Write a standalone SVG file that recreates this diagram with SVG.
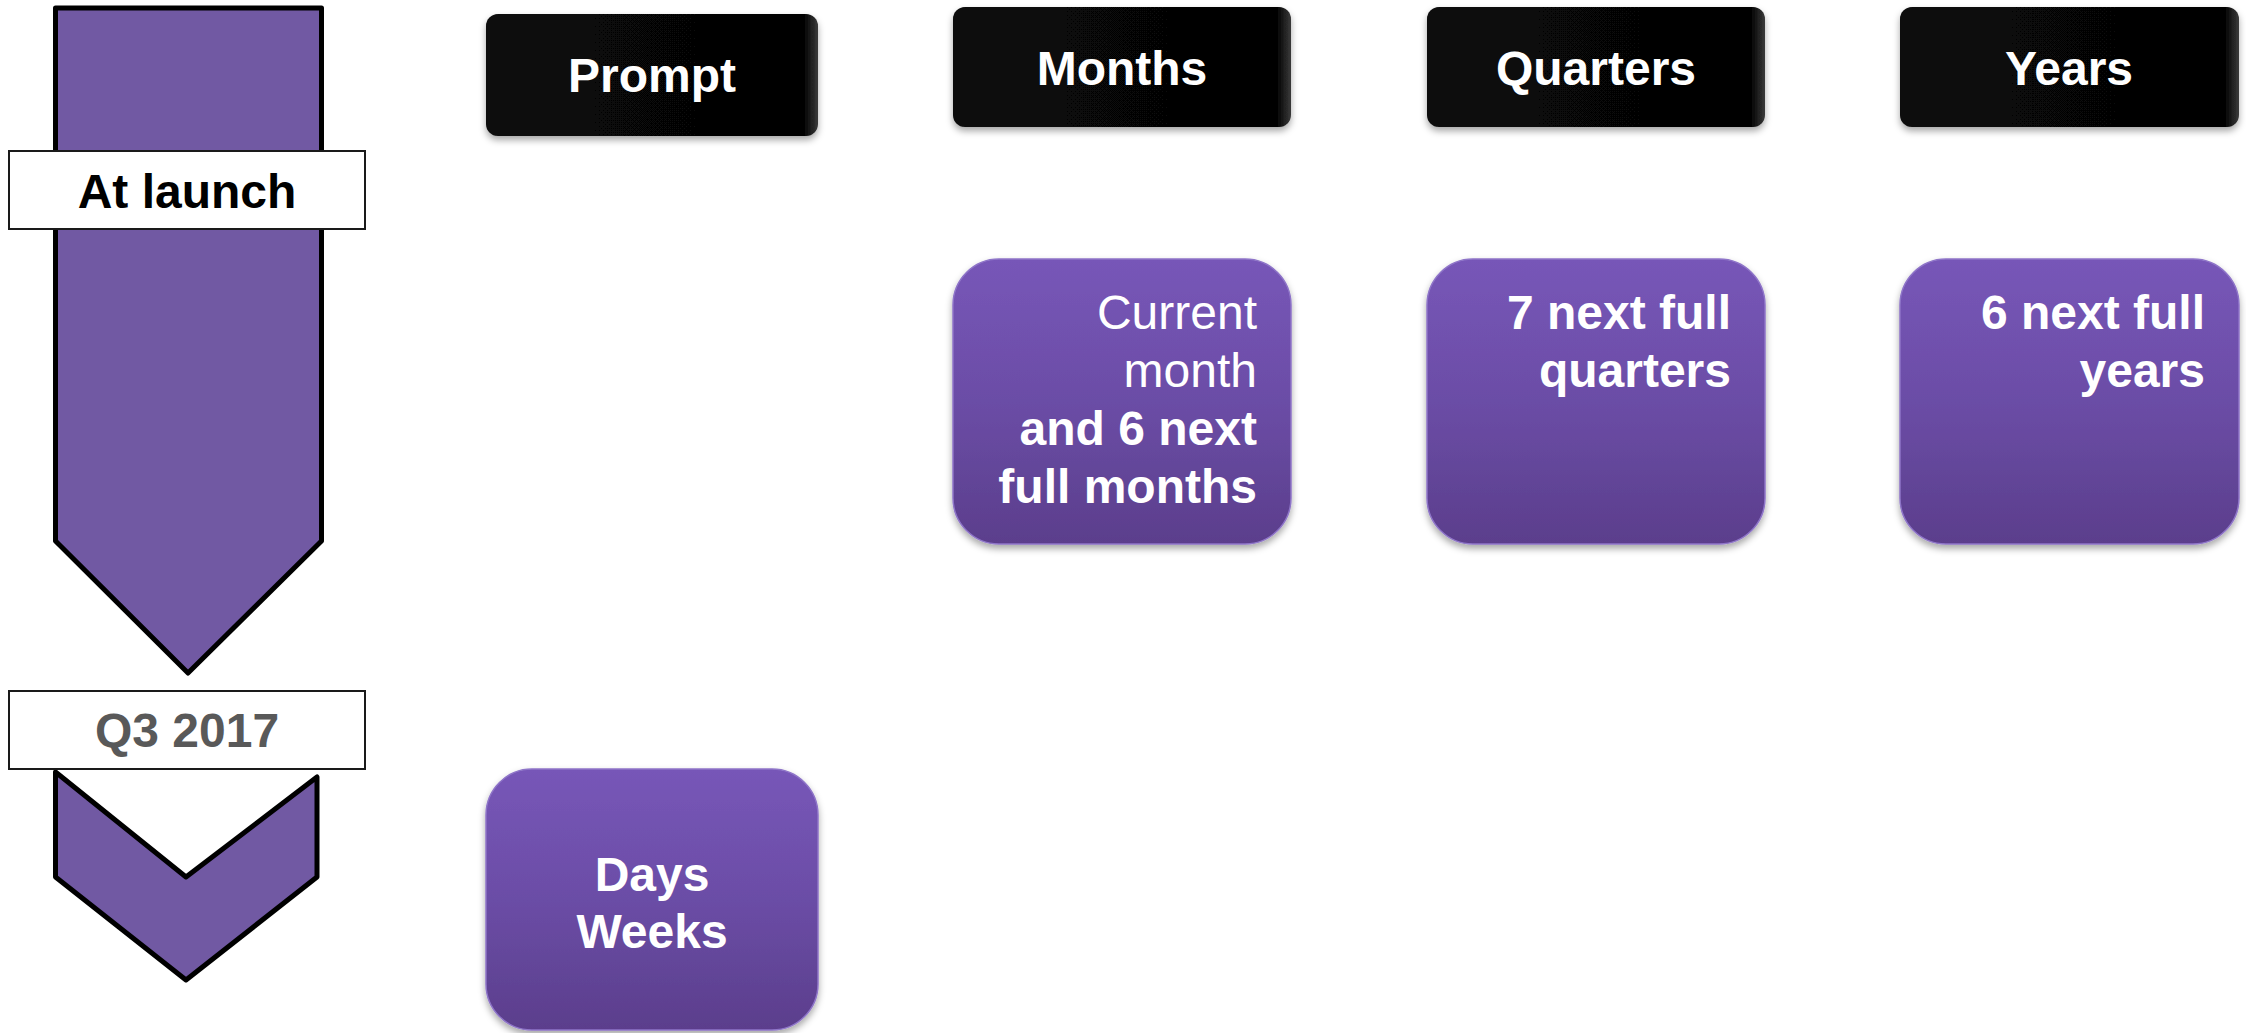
<svg xmlns="http://www.w3.org/2000/svg" width="2246" height="1033" viewBox="0 0 2246 1033">
  <defs>
    <linearGradient id="purpleGrad" x1="0" y1="0" x2="0" y2="1">
      <stop offset="0" stop-color="#7756B8"/>
      <stop offset="0.5" stop-color="#6B4DA6"/>
      <stop offset="1" stop-color="#5B3E8C"/>
    </linearGradient>
    <linearGradient id="blackGrad" x1="0" y1="0" x2="1" y2="0">
      <stop offset="0" stop-color="#080808"/>
      <stop offset="0.96" stop-color="#050505"/>
      <stop offset="1" stop-color="#3a3a3a"/>
    </linearGradient>
    <filter id="shadow" x="-10%" y="-10%" width="120%" height="125%">
      <feDropShadow dx="0" dy="4" stdDeviation="3.5" flood-color="#000" flood-opacity="0.35"/>
    </filter>
  </defs>
  <style>
    text { font-family: "Liberation Sans", Arial, sans-serif; }
    .hdr { fill: url(#blackGrad); filter: url(#shadow); }
    .hdrText { fill: #ffffff; font-size: 48px; font-weight: bold; text-anchor: middle; }
    .card { fill: url(#purpleGrad); stroke: #8E74C8; stroke-width: 1.5; filter: url(#shadow); }
    .cardText { fill: #ffffff; font-size: 48px; text-anchor: end; }
    .mid { text-anchor: middle; }
    .b { font-weight: bold; }
    .tl { fill: #7159A3; stroke: #000000; stroke-width: 5; stroke-linejoin: round; }
    .label { fill: #ffffff; stroke: #1a1a1a; stroke-width: 2; }
    .labelText { font-size: 48px; font-weight: bold; text-anchor: middle; }
  </style>

  <rect width="2246" height="1033" fill="#ffffff"/>

  <g id="timeline">
    <polygon class="tl" points="55.5,8 321.5,8 321.5,541 188,673 55.5,541"/>
    <polygon class="tl" points="55.5,772 186,877 317,777 317,877 186,980 55.5,877"/>
  </g>

  <g id="label-at-launch">
    <rect class="label" x="9" y="151" width="356" height="78"/>
    <text class="labelText" x="187" y="208" fill="#000000">At launch</text>
  </g>

  <g id="label-q3-2017">
    <rect class="label" x="9" y="691" width="356" height="78"/>
    <text class="labelText" x="187" y="747" fill="#595959">Q3 2017</text>
  </g>

  <g id="hdr-prompt">
    <rect class="hdr" x="486" y="14" width="332" height="122" rx="12"/>
    <text class="hdrText" x="652" y="92">Prompt</text>
  </g>
  <g id="hdr-months">
    <rect class="hdr" x="953" y="7" width="338" height="120" rx="12"/>
    <text class="hdrText" x="1122" y="85">Months</text>
  </g>
  <g id="hdr-quarters">
    <rect class="hdr" x="1427" y="7" width="338" height="120" rx="12"/>
    <text class="hdrText" x="1596" y="85">Quarters</text>
  </g>
  <g id="hdr-years">
    <rect class="hdr" x="1900" y="7" width="339" height="120" rx="12"/>
    <text class="hdrText" x="2069" y="85">Years</text>
  </g>

  <g id="card-months">
    <rect class="card" x="953" y="259" width="338" height="285" rx="46"/>
    <text class="cardText" x="1257" y="329">Current</text>
    <text class="cardText" x="1257" y="387">month</text>
    <text class="cardText b" x="1257" y="445">and 6 next</text>
    <text class="cardText b" x="1257" y="503">full months</text>
  </g>
  <g id="card-quarters">
    <rect class="card" x="1427" y="259" width="338" height="285" rx="46"/>
    <text class="cardText b" x="1731" y="329">7 next full</text>
    <text class="cardText b" x="1731" y="387">quarters</text>
  </g>
  <g id="card-years">
    <rect class="card" x="1900" y="259" width="339" height="285" rx="46"/>
    <text class="cardText b" x="2205" y="329">6 next full</text>
    <text class="cardText b" x="2205" y="387">years</text>
  </g>
  <g id="card-days-weeks">
    <rect class="card" x="486" y="769" width="332" height="261" rx="46"/>
    <text class="cardText b mid" x="652" y="891">Days</text>
    <text class="cardText b mid" x="652" y="948">Weeks</text>
  </g>
</svg>
